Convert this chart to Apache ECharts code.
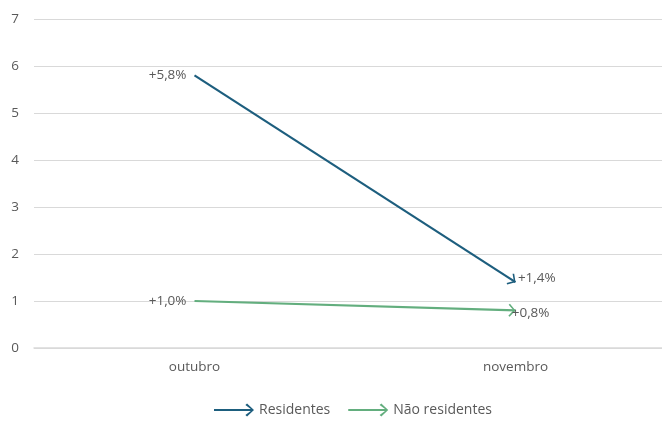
<!DOCTYPE html>
<html><head><meta charset="utf-8">
<script src="https://cdn.jsdelivr.net/npm/echarts@6/dist/echarts.min.js"></script>
<style>html,body{margin:0;padding:0;background:#fff}#c{width:662px;height:427px}</style>
</head><body><div id="c"></div>
<script>
const categories = ['outubro', 'novembro'];
const residentes = [5.8, 1.4];
const naoResidentes = [1.0, 0.8];
const residentesLabels = ['+5,8%', '+1,4%'];
const naoResidentesLabels = ['+1,0%', '+0,8%'];
const yTicks = [0, 1, 2, 3, 4, 5, 6, 7];

const BLUE = '#1d5e7e', GREEN = '#63ae7e', TXT = '#595959';
const FONT = '"Open Sans", sans-serif';
const FS = 13.5;
// right-pointing chevron, tip at bbox centre (dummy point on the right)
const chevron = 'path://M9,1.6 L11,0 L20,10 L11,20 L9,18.4 L16.8,10 Z M31,10 L31,10.02 L30.98,10 Z';
const legendArrow = 'path://M0,5.1 L34,5.1 L29,1.3 L30.6,0 L37,6 L30.6,12 L29,10.7 L34,6.9 L0,6.9 Z';

function mkSeries(name, vals, labels, color, lblCfg) {
  return {
    name, type: 'line',
    data: vals.map((v, i) => ({
      value: v,
      symbol: i === vals.length - 1 ? chevron : 'circle',
      symbolSize: i === vals.length - 1 ? [14, 13] : 0,
      label: Object.assign({show: true, formatter: labels[i], color: TXT, fontSize: FS, fontFamily: FONT}, lblCfg[i])
    })),
    showSymbol: true, symbolKeepAspect: false,
    lineStyle: {color, width: 2.2}, itemStyle: {color},
    silent: true
  };
}

const chart = echarts.init(document.getElementById('c'));
const option = {
  animation: false,
  grid: {left: 34, top: 19, width: 642, height: 329, outerBoundsMode: 'none', containLabel: false},
  xAxis: {
    type: 'category', data: categories,
    axisLine: {lineStyle: {color: '#d9d9d9', width: 1.5}}, axisTick: {show: false},
    axisLabel: {color: TXT, fontSize: FS, fontFamily: FONT, margin: 12}
  },
  yAxis: {
    type: 'value', min: yTicks[0], max: yTicks[yTicks.length - 1], interval: 1,
    axisLine: {show: false}, axisTick: {show: false},
    splitLine: {lineStyle: {color: '#d9d9d9', width: 1.2}},
    axisLabel: {color: TXT, fontSize: FS, fontFamily: FONT, margin: 15}
  },
  legend: {
    bottom: 5, left: 209, itemGap: 18, itemWidth: 40, itemHeight: 13,
    textStyle: {color: TXT, fontSize: 14, fontFamily: FONT},
    data: [{name: 'Residentes', icon: legendArrow}, {name: 'Não residentes', icon: legendArrow}]
  },
  series: [
    mkSeries('Residentes', residentes, residentesLabels, BLUE,
      [{position: 'left', distance: 8}, {position: 'right', distance: -7, offset: [0, -4]}]),
    mkSeries('Não residentes', naoResidentes, naoResidentesLabels, GREEN,
      [{position: 'left', distance: 8}, {position: 'right', distance: 0, offset: [-11, 3]}])
  ]
};
chart.setOption(option);

// rotate each end arrow along its segment, using the chart's own scales
[residentes, naoResidentes].forEach((vals, s) => {
  const p0 = chart.convertToPixel({seriesIndex: s}, [0, vals[0]]);
  const p1 = chart.convertToPixel({seriesIndex: s}, [1, vals[1]]);
  const ang = Math.atan2(-(p1[1] - p0[1]), p1[0] - p0[0]) * 180 / Math.PI;
  option.series[s].data[1].symbolRotate = ang;
});
chart.setOption(option);
</script></body></html>
